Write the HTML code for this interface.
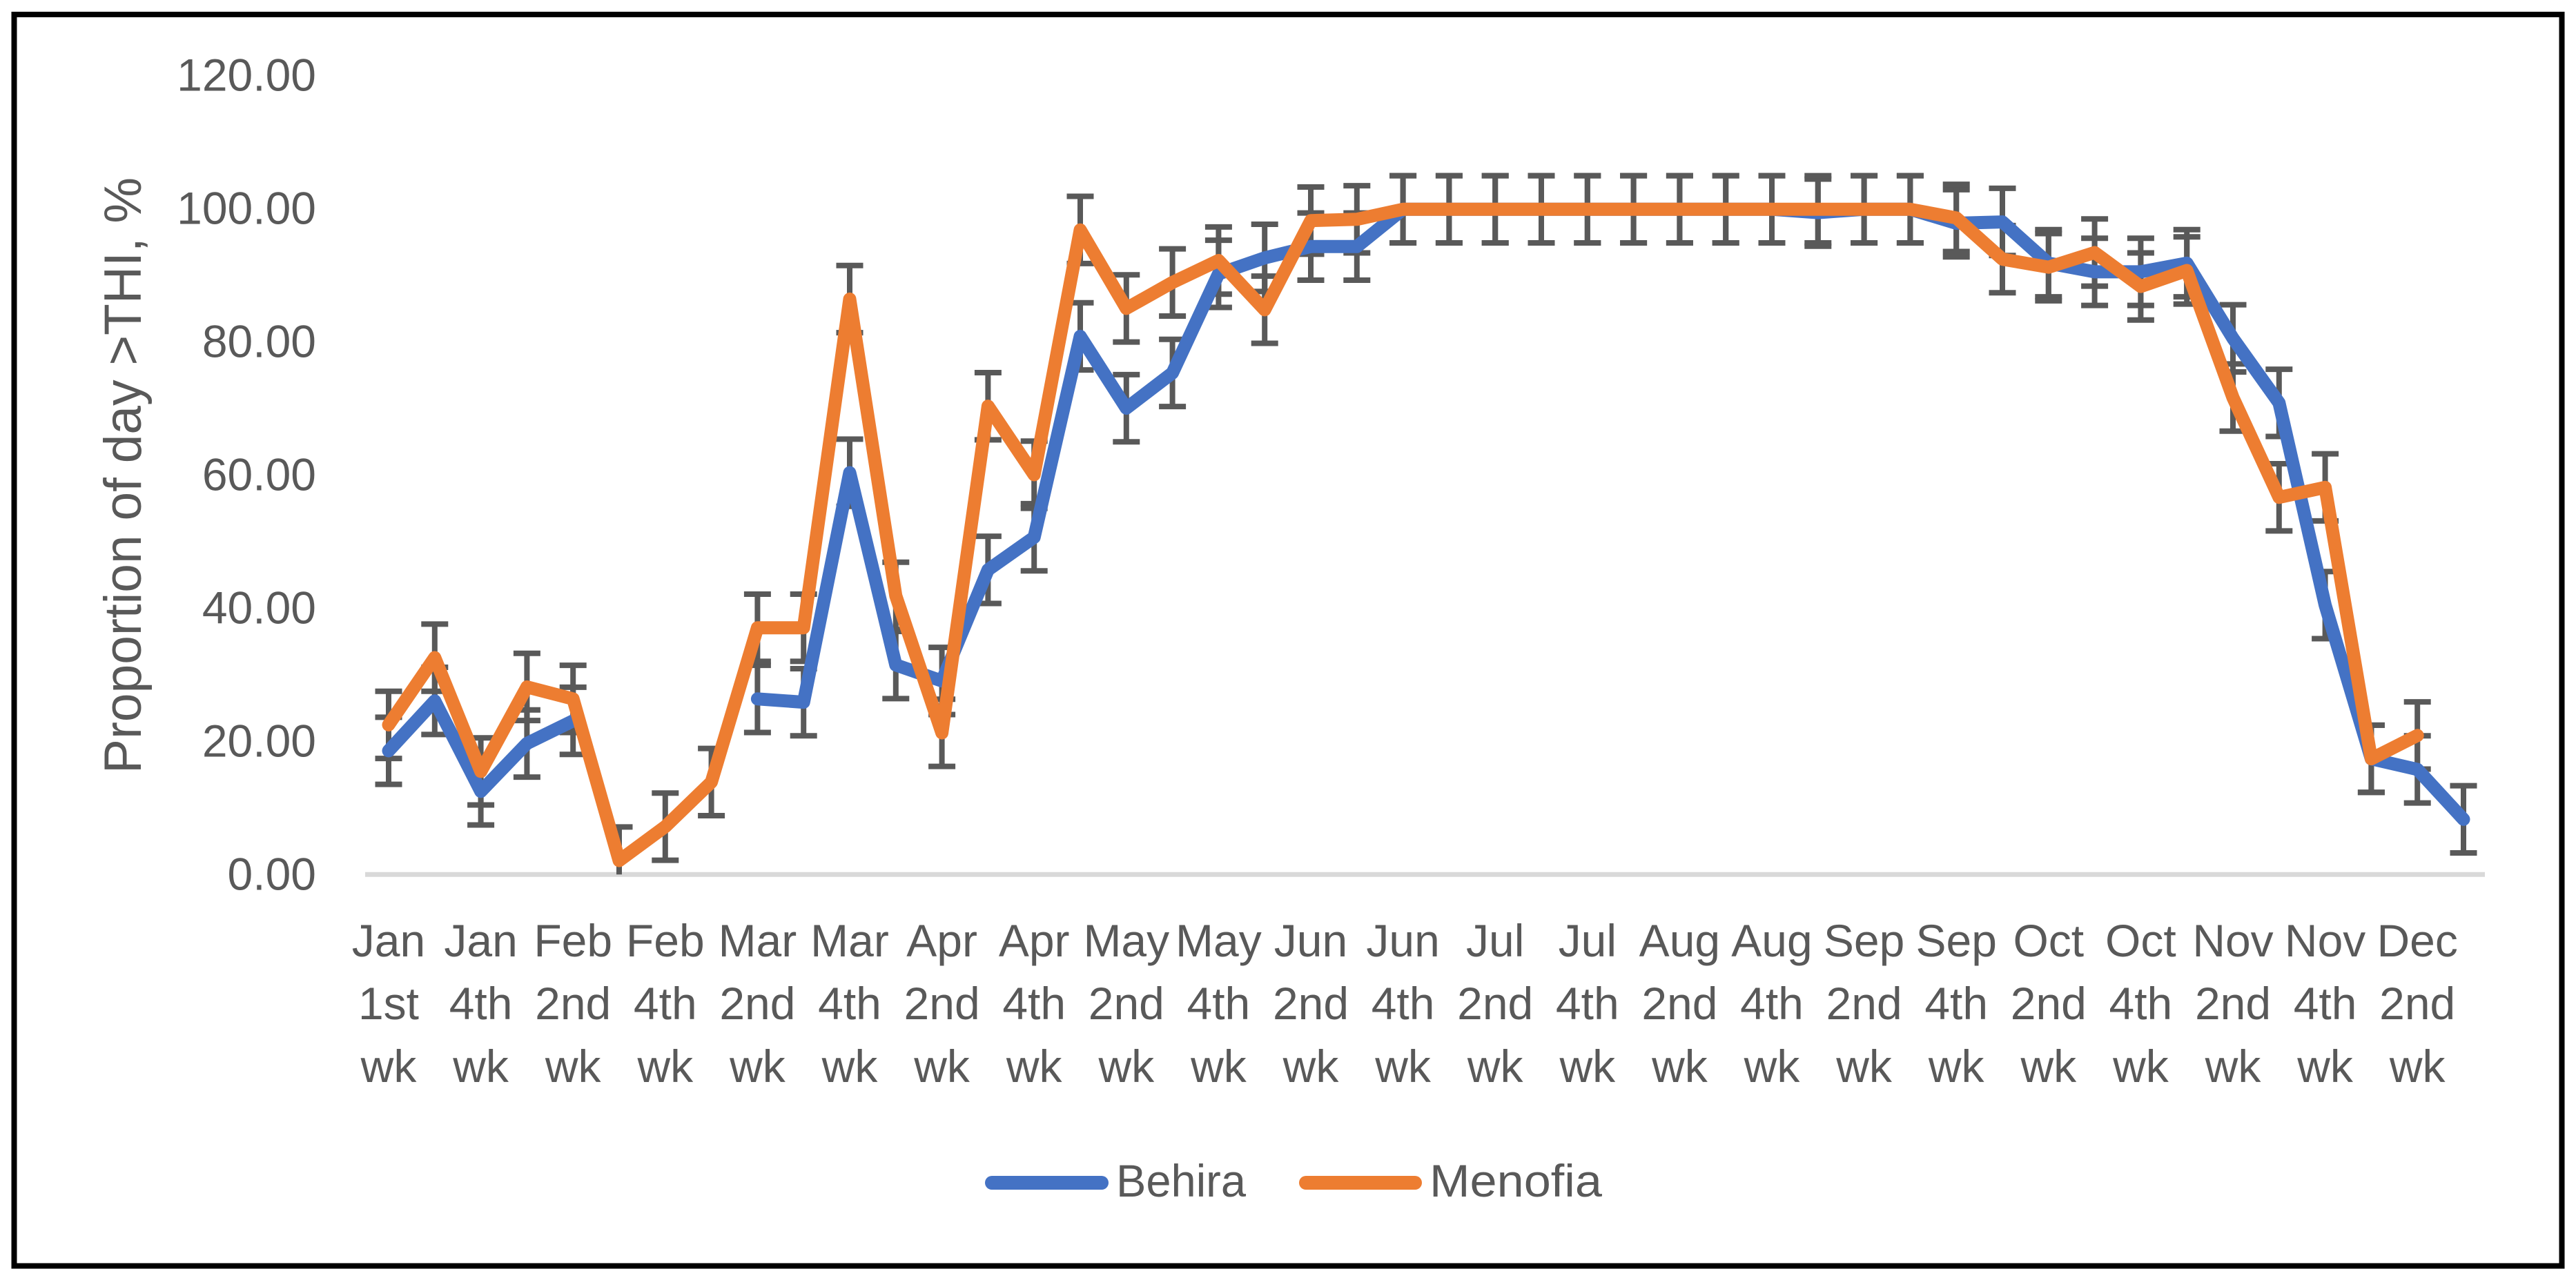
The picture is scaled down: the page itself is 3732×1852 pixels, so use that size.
<!DOCTYPE html>
<html lang="en">
<head>
<meta charset="utf-8">
<title>Proportion of day above THI</title>
<style>
html,body{margin:0;padding:0;background:#fff;}
svg{display:block;}
text{font-family:"Liberation Sans",sans-serif;fill:#595959;}
</style>
</head>
<body>
<svg id="chart" xmlns="http://www.w3.org/2000/svg" width="3732" height="1852" viewBox="0 0 3732 1852">
<rect x="0" y="0" width="3732" height="1852" fill="#ffffff"/>
<rect x="20.5" y="21" width="3691" height="1813.5" fill="none" stroke="#000000" stroke-width="8"/>
<text transform="translate(204,689) rotate(-90)" text-anchor="middle" font-size="76" textLength="864" lengthAdjust="spacingAndGlyphs">Proportion of day &gt;THI, %</text>
<g id="plot"></g>
<g>
<g>
<line x1="1437" y1="1714" x2="1596" y2="1714" stroke="#4472C4" stroke-width="20" stroke-linecap="round"/>
<text x="1617" y="1734" font-size="66" textLength="188" lengthAdjust="spacingAndGlyphs">Behira</text>
</g>
<g>
<line x1="1892" y1="1714" x2="2050" y2="1714" stroke="#ED7D31" stroke-width="20" stroke-linecap="round"/>
<text x="2071" y="1734" font-size="66" textLength="250" lengthAdjust="spacingAndGlyphs">Menofia</text>
</g>
</g>
</svg>
<script>
const yTicks = [0, 20, 40, 60, 80, 100, 120];
const categories = ["Jan 1st wk","Jan 2nd wk","Jan 4th wk","Feb 1st wk","Feb 2nd wk","Feb 3rd wk","Feb 4th wk","Mar 1st wk","Mar 2nd wk","Mar 3rd wk","Mar 4th wk","Apr 1st wk","Apr 2nd wk","Apr 3rd wk","Apr 4th wk","May 1st wk","May 2nd wk","May 3rd wk","May 4th wk","Jun 1st wk","Jun 2nd wk","Jun 3rd wk","Jun 4th wk","Jul 1st wk","Jul 2nd wk","Jul 3rd wk","Jul 4th wk","Aug 1st wk","Aug 2nd wk","Aug 3rd wk","Aug 4th wk","Sep 1st wk","Sep 2nd wk","Sep 3rd wk","Sep 4th wk","Oct 1st wk","Oct 2nd wk","Oct 3rd wk","Oct 4th wk","Nov 1st wk","Nov 2nd wk","Nov 3rd wk","Nov 4th wk","Dec 1st wk","Dec 2nd wk","Dec 3rd wk"];
const xLabels = [["Jan","1st","wk"],["Jan","4th","wk"],["Feb","2nd","wk"],["Feb","4th","wk"],["Mar","2nd","wk"],["Mar","4th","wk"],["Apr","2nd","wk"],["Apr","4th","wk"],["May","2nd","wk"],["May","4th","wk"],["Jun","2nd","wk"],["Jun","4th","wk"],["Jul","2nd","wk"],["Jul","4th","wk"],["Aug","2nd","wk"],["Aug","4th","wk"],["Sep","2nd","wk"],["Sep","4th","wk"],["Oct","2nd","wk"],["Oct","4th","wk"],["Nov","2nd","wk"],["Nov","4th","wk"],["Dec","2nd","wk"]];
const behira = [18.6,26.1,12.5,19.7,23.1,null,null,null,26.4,25.9,60.4,31.5,29.1,45.8,50.7,80.9,70.1,75.4,90.3,92.7,94.4,94.4,100,100,100,100,100,100,100,100,100,99.5,100,100,97.9,98.1,91.9,90.6,90.6,91.9,80.6,70.9,40.5,17.4,15.8,8.3];
const menofia = [22.5,32.6,15.5,28.2,26.4,2.1,7.2,13.9,37.1,37.1,86.5,41.9,21.3,70.4,60.1,96.9,85.1,89,92.3,84.9,98.3,98.5,100,100,100,100,100,100,100,100,100,100,100,100,98.7,92.5,91.3,93.5,88.4,90.8,71.7,56.7,58.2,17.4,20.9,null];
const errorAmount = 5.05;

const NS = "http://www.w3.org/2000/svg";
const plot = document.getElementById("plot");
function xPos(i){ return 563 + i * 66.8; }
function yPos(v){ return 1267.3 - v * 9.64; }
function tickBaseline(v){ return 1289.5 - v * 9.65; }

function makeLine(x1, y1, x2, y2, stroke, width){
  const l = document.createElementNS(NS, "line");
  l.setAttribute("x1", x1);
  l.setAttribute("y1", y1);
  l.setAttribute("x2", x2);
  l.setAttribute("y2", y2);
  l.setAttribute("stroke", stroke);
  l.setAttribute("stroke-width", width);
  return l;
}

function drawErrors(values, seriesName){
  values.forEach(function(v, i){
    if (v === null) return;
    const x = xPos(i);
    const lowValue = v - errorAmount;
    const top = yPos(v + errorAmount);
    const bottom = yPos(Math.max(lowValue, 0));
    const g = document.createElementNS(NS, "g");
    
    
    g.appendChild(makeLine(x, top, x, bottom, "#595959", 8));
    g.appendChild(makeLine(x - 19.5, top, x + 19.5, top, "#595959", 8));
    if (lowValue >= 0) {
      g.appendChild(makeLine(x - 19.5, bottom, x + 19.5, bottom, "#595959", 8));
    }
    plot.appendChild(g);
  });
}

function drawSeries(values, color, seriesName){
  let d = "";
  let pen = false;
  values.forEach(function(v, i){
    if (v === null) { pen = false; return; }
    d += (pen ? "L" : "M") + xPos(i).toFixed(1) + " " + yPos(v).toFixed(1);
    pen = true;
  });
  const p = document.createElementNS(NS, "path");
  p.setAttribute("d", d);
  p.setAttribute("fill", "none");
  p.setAttribute("stroke", color);
  p.setAttribute("stroke-width", 19);
  p.setAttribute("stroke-linejoin", "round");
  p.setAttribute("stroke-linecap", "round");
  
  
  plot.appendChild(p);
}

const axisLine = makeLine(529, 1267.3, 3600, 1267.3, "#D9D9D9", 7);


plot.appendChild(axisLine);

yTicks.forEach(function(v){
  const t = document.createElementNS(NS, "text");
  t.setAttribute("x", 458);
  t.setAttribute("y", tickBaseline(v));
  t.setAttribute("text-anchor", "end");
  t.setAttribute("font-size", 66);
  
  
  t.textContent = v.toFixed(2);
  plot.appendChild(t);
});

const labelBaselines = [1386, 1477, 1568];
xLabels.forEach(function(lines, k){
  lines.forEach(function(line, row){
    const t = document.createElementNS(NS, "text");
    t.setAttribute("x", xPos(k * 2));
    t.setAttribute("y", labelBaselines[row]);
    t.setAttribute("text-anchor", "middle");
    t.setAttribute("font-size", 66);
    
    
    t.textContent = line;
    plot.appendChild(t);
  });
});

drawErrors(behira, "behira");
drawErrors(menofia, "menofia");
drawSeries(behira, "#4472C4", "behira");
drawSeries(menofia, "#ED7D31", "menofia");
</script>
</body>
</html>
